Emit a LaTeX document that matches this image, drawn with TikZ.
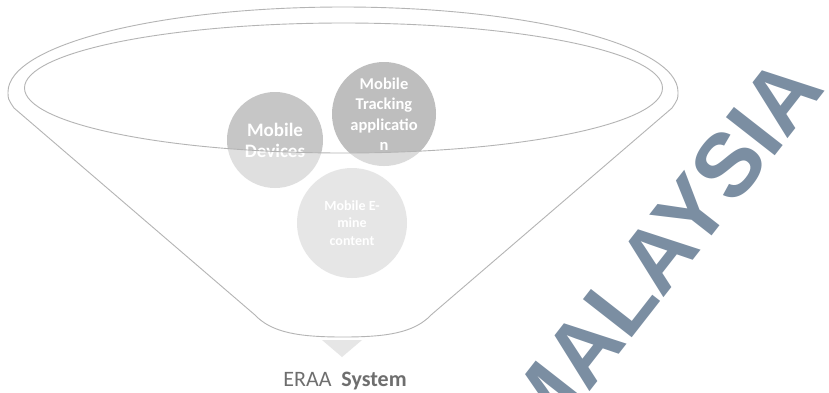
\documentclass[tikz,border=0pt]{standalone}
\usepackage{fontspec}
\setmainfont{Carlito}
\newfontfamily\wmfont{Liberation Sans}
\definecolor{lineg}{HTML}{B4B4B4}
\definecolor{circA}{HTML}{C6C6C6}
\definecolor{circB}{HTML}{BEBEBE}
\definecolor{circC}{HTML}{D2D2D2}
\definecolor{trig}{HTML}{E6E6E6}
\definecolor{labg}{HTML}{6E6E6E}
\definecolor{wmark}{HTML}{7B8EA2}
\tikzset{
  outline/.style={draw=lineg, line width=0.9pt},
  ball/.style={circle, inner sep=0pt, align=center, text=white, font=\bfseries},
}
\begin{document}
\begin{tikzpicture}[x=1pt,y=-1pt]
\useasboundingbox[fill=white] (0,0) rectangle (829,392);
% watermark
\node[text=wmark, font=\wmfont\bfseries\fontsize{90}{90}\selectfont, rotate=52, inner sep=0pt] (wm) at (660,252) {MALAYSIA};
% balls
\node[ball, fill=circA, minimum size=96pt, font=\bfseries\fontsize{19}{21}\selectfont] (dev) at (275,140) {Mobile\\Devices};
\node[ball, fill=circB, minimum size=104pt, font=\bfseries\fontsize{16.5}{20.5}\selectfont] (trk) at (384,114) {Mobile\\Tracking\\applicatio\\n};
\node[ball, fill=circC, minimum size=110pt, font=\bfseries\fontsize{14}{17.5}\selectfont] (emc) at (352,223) {Mobile E-\\mine\\content};
% funnel body veil
\fill[white, fill opacity=0.45, even odd rule]
  (678,92) arc[start angle=0, end angle=-180, x radius=335, y radius=85]
  .. controls (8,99) .. (14,108) -- (255,315)
  .. controls (272,333) and (300,337) .. (343,337)
  .. controls (386,337) and (414,333) .. (431,315)
  -- (672,108) .. controls (678,99) .. (678,92) -- cycle
  (343.5,88) ellipse[x radius=319, y radius=65];
% funnel outline
\draw[outline]
  (678,92) arc[start angle=0, end angle=-180, x radius=335, y radius=85]
  .. controls (8,99) .. (14,108) -- (255,315)
  .. controls (272,333) and (300,337) .. (343,337)
  .. controls (386,337) and (414,333) .. (431,315)
  -- (672,108) .. controls (678,99) .. (678,92) -- cycle;
\draw[outline] (343.5,88) ellipse[x radius=319, y radius=65];
% arrow triangle
\fill[trig] (322,340) -- (362,340) -- (342,357) -- cycle;
\coordinate (tip) at (342,357);
% label
\node[text=labg, font=\fontsize{22}{24}\selectfont, anchor=base] (lab) at (345,386) {ERAA\ \ \textbf{System}};
\end{tikzpicture}
\end{document}
